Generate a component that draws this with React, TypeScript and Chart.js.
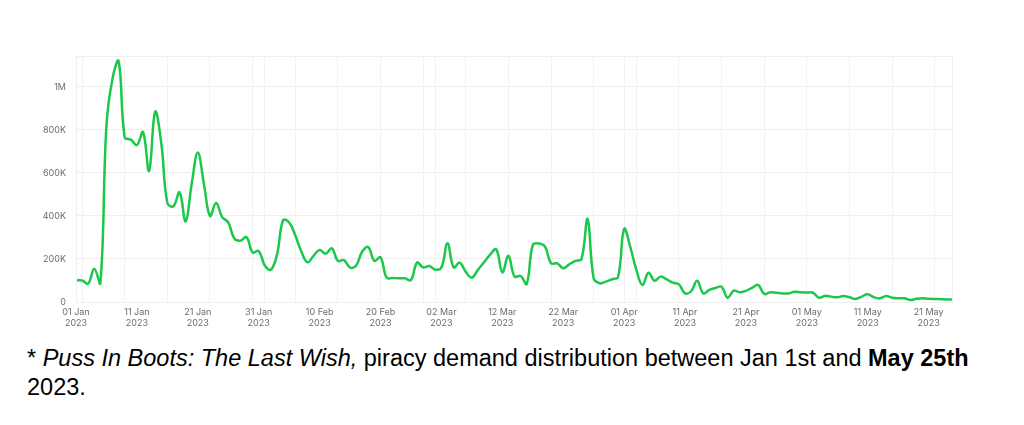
import React, { useEffect, useRef } from "react";
import { Chart, registerables } from "chart.js";

Chart.register(...registerables);

// Day index 0 = 01 Jan 2023, 144 = 25 May 2023
const demandValues: number[] = [
  100000, 100000, 85000, 155000, 88000, 820000, 1040000, 1120000, 765000, 755000,
  730000, 790000, 610000, 885000, 740000, 460000, 445000, 510000, 375000, 550000,
  695000, 550000, 400000, 460000, 395000, 370000, 295000, 285000, 302000, 230000,
  237000, 170000, 150000, 220000, 380000, 370000, 310000, 235000, 185000, 215000,
  242000, 225000, 250000, 191000, 195000, 160000, 170000, 235000, 255000, 191000,
  208000, 113000, 112000, 110000, 110000, 102000, 183000, 161000, 167000, 150000,
  160000, 273000, 161000, 183000, 140000, 113000, 150000, 185000, 220000, 245000,
  138000, 215000, 118000, 121000, 84000, 265000, 272000, 258000, 180000, 180000,
  157000, 175000, 191000, 199000, 386000, 110000, 87000, 95000, 106000, 115000,
  340000, 257000, 150000, 79000, 136000, 99000, 118000, 105000, 90000, 82000,
  40000, 50000, 99000, 40000, 56000, 65000, 71000, 20000, 53000, 45000,
  52000, 66000, 80000, 37000, 45000, 43000, 40000, 40000, 48000, 45000,
  44000, 43000, 20000, 29000, 25000, 22000, 28000, 22000, 14000, 25000,
  36000, 22000, 17000, 28000, 20000, 17000, 17000, 9000, 15000, 17000,
  15000, 14000, 13000, 12000, 12000,
];

const xTickDays: number[] = [0, 10, 20, 30, 40, 50, 60, 70, 80, 90, 100, 110, 120, 130, 140];
const xTickLabels: string[] = [
  "01 Jan", "11 Jan", "21 Jan", "31 Jan", "10 Feb", "20 Feb", "02 Mar", "12 Mar",
  "22 Mar", "01 Apr", "11 Apr", "21 Apr", "01 May", "11 May", "21 May",
];
const xTickYear = "2023";
// vertical grid: Mondays and month starts
const weekGridDays: number[] = [1, 8, 15, 22, 29, 36, 43, 50, 57, 64, 71, 78, 85, 92, 99, 106, 113, 120, 127, 134, 141];
const monthGridDays: number[] = [31, 59, 90];

const yTickValues: number[] = [0, 200000, 400000, 600000, 800000, 1000000];
const yTickLabels: string[] = ["0", "200K", "400K", "600K", "800K", "1M"];
const yMax = 1144000;
const lastDay = 144;

const borderBox = {
  id: "borderBox",
  afterDraw(chart: any) {
    const { ctx, chartArea } = chart;
    ctx.save();
    ctx.strokeStyle = "#efefef";
    ctx.lineWidth = 1;
    ctx.strokeRect(chartArea.left + 0.5, chartArea.top + 0.5, chartArea.right - chartArea.left - 1, chartArea.bottom - chartArea.top);
    ctx.restore();
  },
};

export default function App() {
  const ref = useRef<HTMLCanvasElement | null>(null);

  useEffect(() => {
    if (!ref.current) return;
    const gridSet = new Set<number>([...weekGridDays, ...monthGridDays]);
    const allTicks = Array.from(new Set<number>([...xTickDays, ...weekGridDays, ...monthGridDays])).sort((a, b) => a - b);
    const font = { family: "Inter, 'Noto Sans', sans-serif", size: 9 };
    const chart = new Chart(ref.current, {
      type: "line",
      data: {
        datasets: [
          {
            data: demandValues.map((v, i) => ({ x: i, y: v })),
            borderColor: "#1cc84a",
            borderWidth: 2.5,
            pointRadius: 0,
            tension: 0.4,
            fill: false,
          },
        ],
      },
      plugins: [borderBox],
      options: {
        animation: false,
        responsive: false,
        devicePixelRatio: 1,
        layout: { padding: { top: 56, right: 71, left: 0, bottom: 0 } },
        plugins: { legend: { display: false }, tooltip: { enabled: false } },
        scales: {
          x: {
            type: "linear",
            min: 0,
            max: lastDay,
            afterBuildTicks: (scale: any) => {
              scale.ticks = allTicks.map((v) => ({ value: v }));
            },
            afterFit: (scale: any) => {
              scale.height = 38;
            },
            grid: {
              drawTicks: false,
              color: (ctx: any) => (ctx.tick && gridSet.has(ctx.tick.value) ? "#f2f2f2" : "rgba(0,0,0,0)"),
            },
            border: { display: false },
            ticks: {
              autoSkip: false,
              maxRotation: 0,
              padding: 5,
              color: "#6b6b6b",
              font,
              callback: (v: any) => {
                const idx = xTickDays.indexOf(Number(v));
                return idx >= 0 ? [xTickLabels[idx], xTickYear] : "";
              },
            },
          },
          y: {
            type: "linear",
            min: 0,
            max: yMax,
            afterBuildTicks: (scale: any) => {
              scale.ticks = yTickValues.map((v) => ({ value: v }));
            },
            afterFit: (scale: any) => {
              scale.width = 76;
            },
            grid: { drawTicks: false, color: "#efefef" },
            border: { display: false },
            ticks: {
              padding: 10,
              color: "#6b6b6b",
              font,
              callback: (v: any) => {
                const idx = yTickValues.indexOf(Number(v));
                return idx >= 0 ? yTickLabels[idx] : "";
              },
            },
          },
        },
      },
    });
    return () => chart.destroy();
  }, []);

  return (
    <div style={{ position: "absolute", left: 0, top: 0, width: 1024, height: 425, background: "#fff" }}>
      <canvas ref={ref} width={1024} height={340} style={{ position: "absolute", left: 0, top: 0, width: 1024, height: 340 }} />
      <div
        style={{
          position: "absolute",
          left: 27,
          top: 344,
          width: 975,
          fontFamily: "'Liberation Sans', Arial, sans-serif",
          fontSize: 23.5,
          lineHeight: "29px",
          color: "#000",
        }}
      >
        * <i>Puss In Boots: The Last Wish,</i> piracy demand distribution between Jan 1st and <b>May 25th</b> 2023.
      </div>
    </div>
  );
}
